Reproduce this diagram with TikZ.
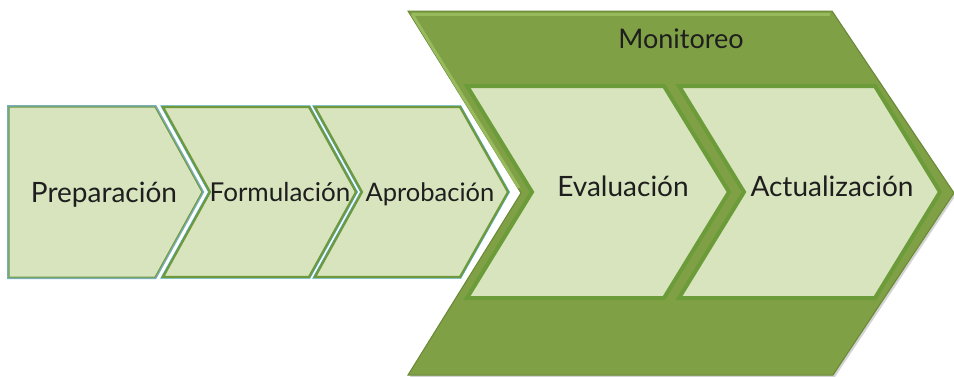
\documentclass[tikz,border=0pt]{standalone}
\usepackage{fontspec}
\setmainfont{Lato}
\usetikzlibrary{shadows}
\definecolor{lightfill}{RGB}{216,228,189}
\definecolor{bigfill}{RGB}{128,160,70}
\definecolor{bigedge}{RGB}{104,136,52}
\definecolor{bevel}{RGB}{150,186,92}
\definecolor{innerborder}{RGB}{108,155,58}
\definecolor{smallborder}{RGB}{112,153,60}
\definecolor{blueline}{RGB}{75,172,198}
\definecolor{greyblue}{RGB}{122,174,180}
\definecolor{txt}{RGB}{30,30,30}
\tikzset{
  bigshape/.style={fill=bigfill, draw=bigedge, line width=1pt, line join=miter,
    drop shadow={opacity=0.35, shadow xshift=2pt, shadow yshift=-2pt}},
  bevelline/.style={draw=bevel, line width=3pt, line cap=butt},
  innershape/.style={fill=lightfill, draw=innerborder, line width=4pt, line join=miter},
  smallblue/.style={draw=blueline, line width=3.4pt, line join=miter},
  smallgreen/.style={fill=lightfill, draw=smallborder, line width=2.2pt, line join=miter},
  firstblue/.style={draw=greyblue, line width=4pt, line join=miter},
  firstgreen/.style={fill=lightfill, draw=smallborder, line width=1pt, line join=miter},
  lbl/.style={text=txt, font=\fontsize{28}{32}\selectfont, inner sep=0pt, anchor=base},
}
\begin{document}
\begin{tikzpicture}[x=1pt,y=-1pt]
\useasboundingbox (0,0) rectangle (954,376);
% big chevron
\path[bigshape] (408,11) -- (832,11) -- (954,193) -- (833,375) -- (408,375) -- (521,193) -- cycle;
\path[bevelline] (412,14) -- (830,14);
\path[bevelline] (412,14) -- (519,188);
% inner chevrons
\path[innershape] (467,86) -- (664,86) -- (729,192) -- (664,298) -- (467,298) -- (532,192) -- cycle;
\path[innershape] (679,86) -- (875,86) -- (940,192) -- (875,298) -- (679,298) -- (744,192) -- cycle;
% small chevrons
\path[firstblue] (9,107) -- (155,107) -- (202,192) -- (155,277) -- (9,277) -- cycle;
\path[firstgreen] (9,107) -- (155,107) -- (202,192) -- (155,277) -- (9,277) -- cycle;
\path[smallblue] (163,107) -- (309,107) -- (356,192) -- (309,277) -- (163,277) -- (210,192) -- cycle;
\path[smallgreen] (163,107) -- (309,107) -- (356,192) -- (309,277) -- (163,277) -- (210,192) -- cycle;
\path[smallblue] (315,107) -- (460,107) -- (508,192) -- (460,277) -- (315,277) -- (362,192) -- cycle;
\path[smallgreen] (315,107) -- (460,107) -- (508,192) -- (460,277) -- (315,277) -- (362,192) -- cycle;
% labels
\node[lbl, font=\fontsize{27}{31}\selectfont] (mon) at (681,48) {Monitoreo};
\node[lbl] (eva) at (623,196) {Evaluación};
\node[lbl] (act) at (832,196) {Actualización};
\node[lbl] (pre) at (104,202) {Preparación};
\node[lbl, font=\fontsize{26}{30}\selectfont] (for) at (280,201) {Formulación};
\node[lbl, font=\fontsize{25.5}{30}\selectfont] (apr) at (430,201) {Aprobación};
\end{tikzpicture}
\end{document}
